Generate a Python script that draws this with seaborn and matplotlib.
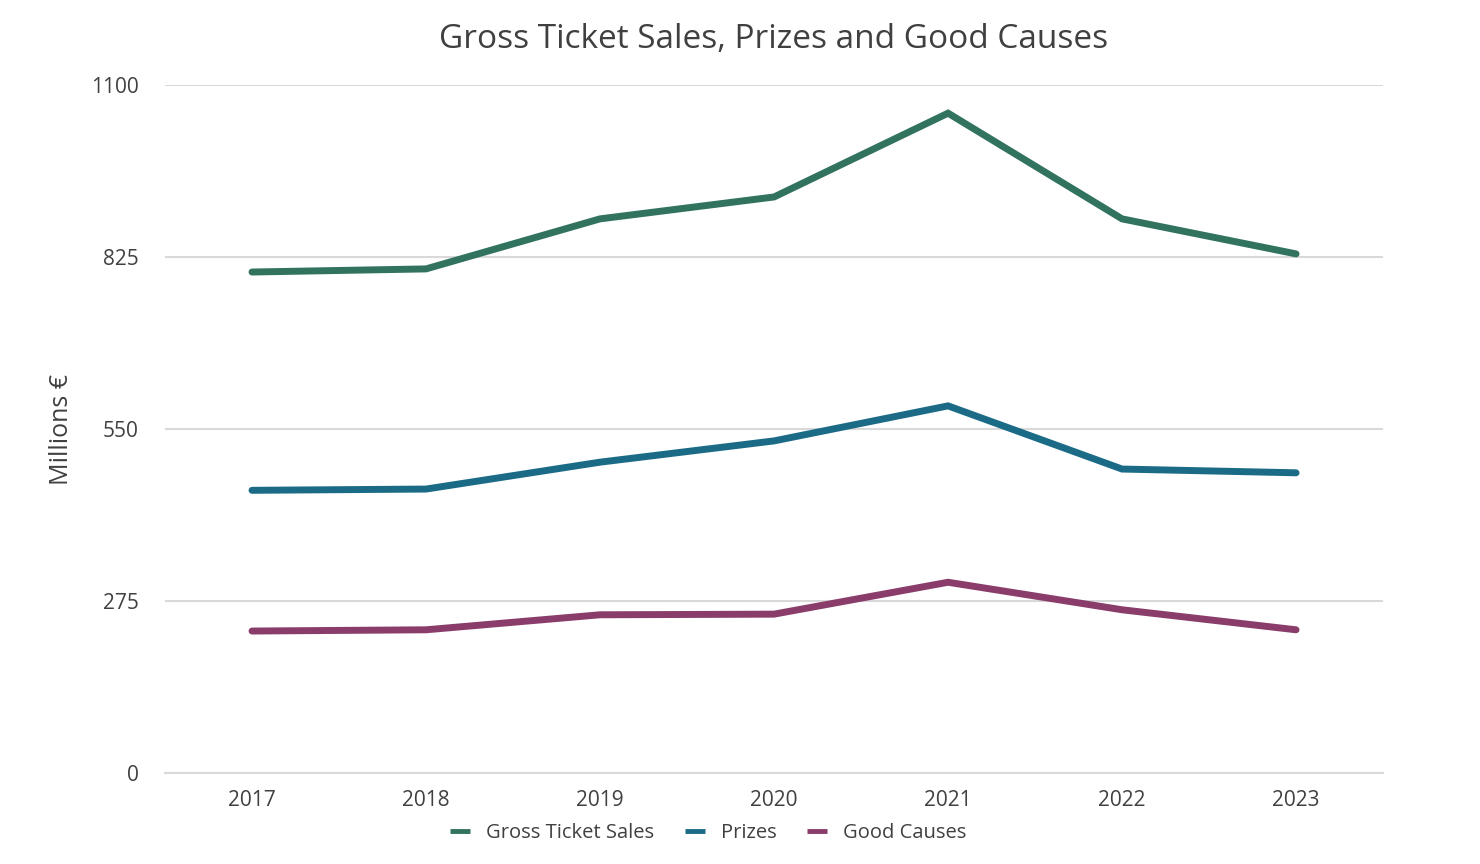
import matplotlib
matplotlib.use("Agg")
import matplotlib.pyplot as plt
import seaborn as sns
import pandas as pd

years = ["2017", "2018", "2019", "2020", "2021", "2022", "2023"]
gross_ticket_sales = [801, 806, 886, 921, 1055, 886, 830]
prizes = [452, 454, 497, 531, 587, 486, 480]
good_causes = [227, 229, 253, 254, 305, 261, 229]
series_names = ["Gross Ticket Sales", "Prizes", "Good Causes"]
yticks = [0, 275, 550, 825, 1100]

colors = ["#31735f", "#1b6b87", "#8a3d6b"]

df = pd.DataFrame({
    "Year": years * 3,
    "Value": gross_ticket_sales + prizes + good_causes,
    "Series": [series_names[0]] * 7 + [series_names[1]] * 7 + [series_names[2]] * 7,
})

sns.set_theme(style="whitegrid")
plt.rcParams["font.family"] = ["Open Sans", "DejaVu Sans"]
text_color = "#404040"

fig = plt.figure(figsize=(14.8, 8.64), dpi=100)
ax = fig.add_axes([0.1115, 0.1053, 0.823, 0.7963])

sns.lineplot(data=df, x="Year", y="Value", hue="Series", palette=colors,
             linewidth=5, ax=ax, sort=False, legend=True,
             solid_capstyle="round", solid_joinstyle="miter")

ax.set_xlim(-0.5, 6.5)
ax.set_ylim(0, 1100)
ax.set_yticks(yticks)
ax.set_yticklabels([str(t) for t in yticks])
ax.grid(axis="y", color="#d9d9d9", linewidth=1.5)
ax.grid(axis="x", visible=False)
for s in ["left", "right", "top"]:
    ax.spines[s].set_visible(False)
ax.spines["bottom"].set_visible(True)
ax.spines["bottom"].set_color("#d9d9d9")
ax.spines["bottom"].set_linewidth(1.5)
ax.tick_params(axis="both", colors=text_color, labelsize=15, length=0)
ax.tick_params(axis="x", pad=12)
ax.tick_params(axis="y", pad=19)
ax.set_xlabel("")
ax.set_ylabel("Millions €", fontsize=18, color=text_color, labelpad=12)
ax.set_title("Gross Ticket Sales, Prizes and Good Causes", fontsize=24,
             color=text_color, pad=27)

handles, labels = ax.get_legend_handles_labels()
for h in handles:
    h.set_linewidth(3.5)
    h.set_solid_capstyle("butt")
ax.legend(handles, labels, loc="upper center", bbox_to_anchor=(0.446, -0.047),
          ncol=3, frameon=False, fontsize=14.5, handlelength=1.0,
          columnspacing=1.5, handletextpad=0.8, labelcolor=text_color)

fig.savefig("out.png", dpi=100, facecolor="white")
